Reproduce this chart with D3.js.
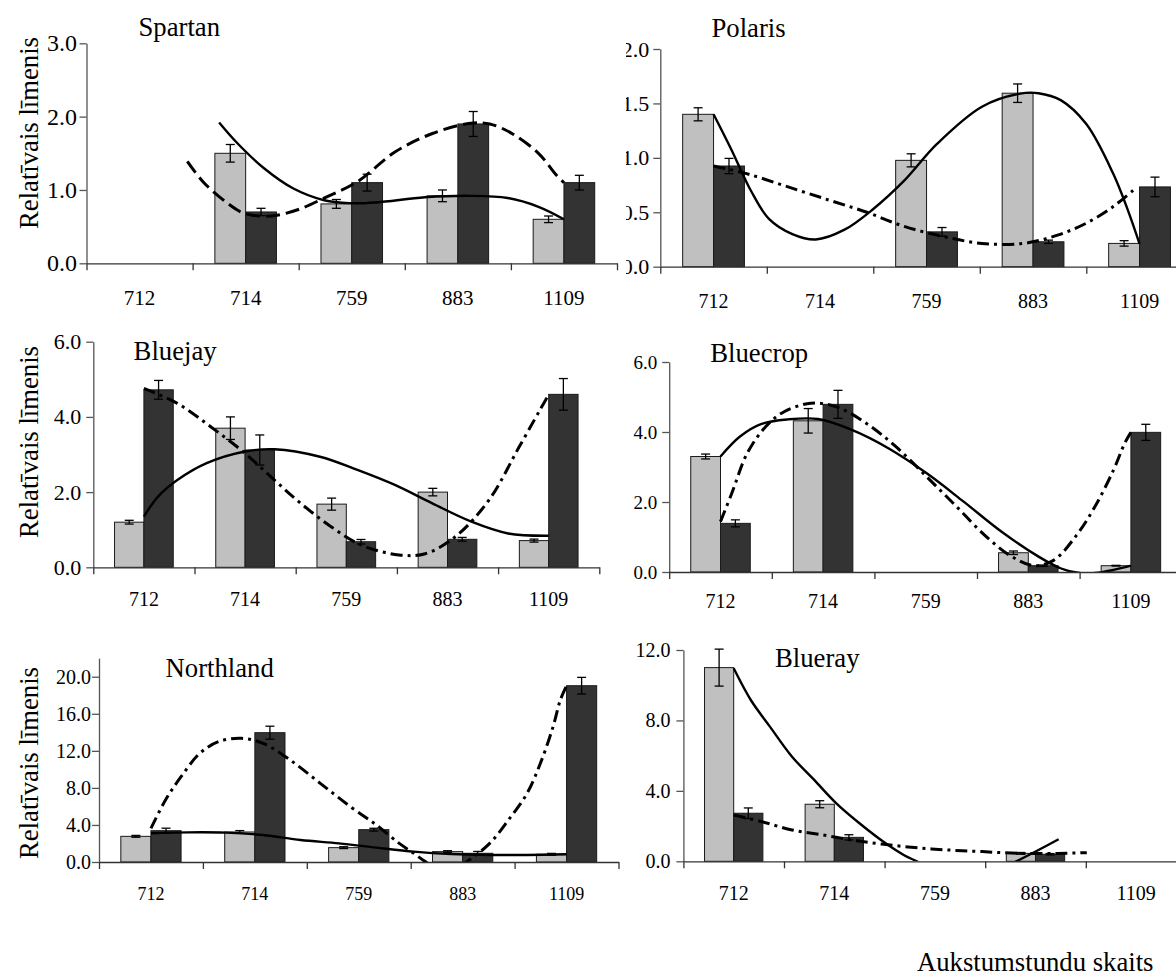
<!DOCTYPE html>
<html lang="lv">
<head>
    <meta charset="UTF-8">
    <title>Relatīvais līmenis</title>
    <style>
        body {
            margin: 0;
            background: #ffffff;
        }
        text {
            font-family: "Liberation Serif", "Times New Roman", serif;
            fill: #000;
        }
    </style>
</head>
<body>
<div id="chart"></div>
<script src="https://d3js.org/d3.v7.min.js"></script>
<script>
    // kategorijas (x ass)
    const categories = ["712", "714", "759", "883", "1109"];

    // Spartan
    const spartanGrey = [null, 1.5, 0.81, 0.92, 0.6];
    const spartanGreyErr = [null, 0.12, 0.06, 0.08, 0.045];
    const spartanDark = [null, 0.7, 1.1, 1.9, 1.1];
    const spartanDarkErr = [null, 0.05, 0.115, 0.17, 0.1];
    // trend lines, [category position, value]
    const spartanSolid = [[1.25, 1.92], [1.42, 1.64], [1.67, 1.30], [1.95, 1.02], [2.24, 0.86], [2.48, 0.82], [2.73, 0.83], [3.19, 0.90], [3.62, 0.92], [3.97, 0.89], [4.26, 0.77], [4.5, 0.6]];
    const spartanDash = [[0.95, 1.39], [1.10, 1.11], [1.31, 0.84], [1.49, 0.68], [1.74, 0.645], [1.99, 0.73], [2.27, 0.91], [2.55, 1.11], [2.91, 1.52], [3.26, 1.77], [3.62, 1.91], [3.80, 1.90], [4.01, 1.77], [4.26, 1.5], [4.43, 1.2], [4.5, 1.1]];

    // Polaris
    const polarisGrey = [1.40, null, 0.977, 1.594, 0.214];
    const polarisGreyErr = [0.06, null, 0.06, 0.085, 0.025];
    const polarisDark = [0.925, null, 0.32, 0.229, 0.733];
    const polarisDarkErr = [0.07, null, 0.04, 0.015, 0.09];
    const polarisSolid = [[0.5, 1.40], [0.67, 1.07], [0.85, 0.70], [1.02, 0.44], [1.24, 0.30], [1.46, 0.25], [1.73, 0.34], [2.0, 0.53], [2.29, 0.79], [2.6, 1.13], [3.02, 1.47], [3.38, 1.59], [3.55, 1.594], [3.76, 1.53], [4.0, 1.31], [4.25, 0.86], [4.39, 0.52], [4.5, 0.21]];
    const polarisDash = [[0.5, 0.925], [0.81, 0.855], [1.2, 0.733], [1.59, 0.61], [1.94, 0.50], [2.29, 0.37], [2.67, 0.275], [3.02, 0.214], [3.41, 0.214], [3.73, 0.29], [4.0, 0.40], [4.25, 0.55], [4.46, 0.72]];

    // Bluejay
    const bluejayGrey = [1.2, 3.7, 1.68, 2.0, 0.71];
    const bluejayGreyErr = [0.05, 0.3, 0.16, 0.1, 0.04];
    const bluejayDark = [4.72, 3.12, 0.68, 0.745, 4.6];
    const bluejayDarkErr = [0.25, 0.4, 0.06, 0.05, 0.42];
    const bluejaySolid = [[0.5, 1.35], [0.64, 1.88], [0.83, 2.32], [1.12, 2.77], [1.5, 3.08], [1.79, 3.14], [2.24, 2.94], [2.61, 2.59], [2.98, 2.19], [3.35, 1.70], [3.73, 1.22], [4.1, 0.90], [4.5, 0.84]];
    const bluejayDash = [[0.5, 4.76], [0.83, 4.36], [1.16, 3.74], [1.5, 3.03], [1.79, 2.32], [2.05, 1.70], [2.35, 1.08], [2.65, 0.59], [3.02, 0.33], [3.28, 0.36], [3.58, 0.82], [3.91, 1.79], [4.21, 3.21], [4.47, 4.45], [4.5, 4.58]];

    // Bluecrop
    const bluecropGrey = [3.3, 4.32, null, 0.55, 0.18];
    const bluecropGreyErr = [0.07, 0.35, null, 0.05, 0.01];
    const bluecropDark = [1.39, 4.79, null, 0.18, 3.99];
    const bluecropDarkErr = [0.1, 0.4, null, 0.02, 0.23];
    const bluecropSolid = [[0.5, 3.3], [0.69, 3.87], [0.9, 4.23], [1.16, 4.36], [1.45, 4.37], [1.78, 4.06], [2.14, 3.53], [2.51, 2.82], [2.87, 2.01], [3.24, 1.15], [3.6, 0.44], [3.82, 0.1], [4.0, -0.03], [4.15, -0.03], [4.33, 0.06], [4.5, 0.18]];
    const bluecropDash = [[0.5, 1.44], [0.61, 2.25], [0.76, 3.39], [0.94, 4.15], [1.12, 4.58], [1.38, 4.82], [1.63, 4.72], [1.92, 4.25], [2.21, 3.58], [2.51, 2.72], [2.8, 1.87], [3.09, 1.01], [3.34, 0.44], [3.56, 0.18], [3.75, 0.34], [3.96, 1.01], [4.15, 1.87], [4.33, 2.91], [4.44, 3.68], [4.5, 3.99]];

    // Northland
    const northlandGrey = [2.77, 3.24, 1.55, 1.12, 0.83];
    const northlandGreyErr = [0.1, 0.15, 0.1, 0.1, 0.1];
    const northlandDark = [3.38, 13.96, 3.49, 0.94, 19.03];
    const northlandDarkErr = [0.27, 0.7, 0.15, 0.2, 0.9];
    const northlandSolid = [[0.5, 3.1], [0.86, 3.2], [1.22, 3.17], [1.58, 2.91], [1.94, 2.37], [2.31, 2.01], [2.67, 1.55], [3.03, 1.12], [3.39, 0.86], [3.76, 0.76], [4.12, 0.76], [4.5, 0.83]];
    const northlandDash = [[0.5, 3.63], [0.64, 6.69], [0.79, 9.21], [0.97, 11.73], [1.15, 12.99], [1.37, 13.35], [1.58, 12.81], [1.84, 11.01], [2.13, 8.49], [2.42, 5.97], [2.67, 3.99], [2.89, 2.01], [3.03, 0.94], [3.14, 0.04], [3.34, -1.2], [3.54, 0.04], [3.76, 2.01], [3.94, 4.53], [4.12, 7.41], [4.26, 11.0], [4.37, 14.6], [4.44, 17.48], [4.5, 19.03]];

    // Blueray
    const bluerayGrey = [11.0, 3.24, null, 0.45, null];
    const bluerayGreyErr = [1.05, 0.2, null, 0.05, null];
    const bluerayDark = [2.73, 1.36, null, 0.40, null];
    const bluerayDarkErr = [0.3, 0.15, null, 0.04, null];
    const blueraySolid = [[0.5, 10.96], [0.67, 9.16], [0.86, 7.65], [1.08, 5.94], [1.3, 4.62], [1.52, 3.29], [1.75, 2.16], [2.01, 1.02], [2.19, 0.36], [2.32, 0], [2.8, -1.3], [3.31, 0], [3.73, 1.25]];
    const bluerayDash = [[0.5, 2.63], [0.78, 2.25], [1.08, 1.78], [1.38, 1.5], [1.67, 1.21], [1.97, 0.98], [2.3, 0.78], [2.64, 0.64], [2.97, 0.55], [3.34, 0.45], [3.72, 0.45], [4.01, 0.49]];

    const serif = "'Liberation Serif', 'Times New Roman', serif";

    // panel layout (pixel placement of each small chart)
    const panels = [
        {name: "Spartan", grey: spartanGrey, greyErr: spartanGreyErr, dark: spartanDark, darkErr: spartanDarkErr,
            solid: spartanSolid, dash: spartanDash, dashArray: "14,6",
            x0: 86.5, x1: 617, y0: 263.3, yTop: 43.3, yMax: 3, yTicks: [0, 1, 2, 3],
            font: 21, yFont: 24, labelY: 305, yPad: 2.5, titleX: 138.5, titleY: 36, yLabelY: 133},
        {name: "Polaris", grey: polarisGrey, greyErr: polarisGreyErr, dark: polarisDark, darkErr: polarisDarkErr,
            solid: polarisSolid, dash: polarisDash, dashArray: "12,5,3,5",
            x0: 660.3, x1: 1192.8, y0: 266.7, yTop: 49, yMax: 2, yTicks: [0, 0.5, 1, 1.5, 2],
            font: 20, yFont: 22, labelY: 308, yPad: 4, titleX: 711.5, titleY: 37, clipLeft: 626},
        {name: "Bluejay", grey: bluejayGrey, greyErr: bluejayGreyErr, dark: bluejayDark, darkErr: bluejayDarkErr,
            solid: bluejaySolid, dash: bluejayDash, dashArray: "12,5,3,5",
            x0: 93.3, x1: 599.3, y0: 567.3, yTop: 341.7, yMax: 6, yTicks: [0, 2, 4, 6],
            font: 20, yFont: 22, labelY: 606, yPad: 5, titleX: 133.6, titleY: 360, yLabelY: 442},
        {name: "Bluecrop", grey: bluecropGrey, greyErr: bluecropGreyErr, dark: bluecropDark, darkErr: bluecropDarkErr,
            solid: bluecropSolid, dash: bluecropDash, dashArray: "12,5,3,5",
            x0: 669.2, x1: 1182.2, y0: 572, yTop: 362, yMax: 6, yTicks: [0, 2, 4, 6],
            font: 20, yFont: 19, labelY: 608, yPad: 5, titleX: 710.3, titleY: 362},
        {name: "Northland", grey: northlandGrey, greyErr: northlandGreyErr, dark: northlandDark, darkErr: northlandDarkErr,
            solid: northlandSolid, dash: northlandDash, dashArray: "12,5,3,5",
            x0: 99, x1: 618.5, y0: 862, yTop: 658.2, yMax: 22, yTicks: [0, 4, 8, 12, 16, 20],
            font: 18, yFont: 20, labelY: 900, yPad: 1, titleX: 165.6, titleY: 677, yLabelY: 763},
        {name: "Blueray", grey: bluerayGrey, greyErr: bluerayGreyErr, dark: bluerayDark, darkErr: bluerayDarkErr,
            solid: blueraySolid, dash: bluerayDash, dashArray: "12,5,3,5",
            x0: 683.4, x1: 1186.4, y0: 861.3, yTop: 650, yMax: 12, yTicks: [0, 4, 8, 12],
            font: 20, yFont: 20, labelY: 900, yPad: 6, titleX: 775, titleY: 667}
    ];

    const svg = d3.select("#chart")
        .append("svg")
        .attr("width", 1176)
        .attr("height", 976);

    const defs = svg.append("defs");

    panels.forEach(function (p, pi) {
        const g = svg.append("g");

        // the right column is cut on its left side in the original
        if (p.clipLeft) {
            defs.append("clipPath").attr("id", "panelclip" + pi)
                .append("rect")
                .attr("x", p.clipLeft).attr("y", 0)
                .attr("width", 1176 - p.clipLeft).attr("height", 976);
            g.attr("clip-path", "url(#panelclip" + pi + ")");
        }

        const x = d3.scaleBand().domain(categories).range([p.x0, p.x1]);
        const xu = d3.scaleLinear().domain([0, categories.length]).range([p.x0, p.x1]);
        const sub = d3.scaleBand().domain(["grey", "dark"]).range([0, x.bandwidth()])
            .paddingInner(0).paddingOuter(0.724);
        const y = d3.scaleLinear().domain([0, p.yMax]).range([p.y0, p.yTop]);

        // bars + error bars
        const series = [
            {key: "grey", vals: p.grey, errs: p.greyErr, fill: "#c0c0c0"},
            {key: "dark", vals: p.dark, errs: p.darkErr, fill: "#333333"}
        ];
        series.forEach(function (s) {
            const rows = categories.map((c, i) => ({cat: c, v: s.vals[i], e: s.errs[i]}))
                .filter(d => d.v != null);

            g.selectAll(null)
                .data(rows)
                .join("rect")
                .attr("x", d => x(d.cat) + sub(s.key))
                .attr("y", d => y(d.v))
                .attr("width", sub.bandwidth())
                .attr("height", d => y(0) - y(d.v))
                .attr("fill", s.fill)
                .attr("stroke", "#1a1a1a")
                .attr("stroke-width", 1);

            const eb = g.selectAll(null)
                .data(rows)
                .join("g")
                .attr("transform", d => `translate(${x(d.cat) + sub(s.key) + sub.bandwidth() / 2},0)`)
                .attr("stroke", "#000")
                .attr("stroke-width", 1.3);
            eb.append("line").attr("x1", 0).attr("x2", 0)
                .attr("y1", d => y(d.v + d.e)).attr("y2", d => y(d.v - d.e));
            eb.append("line").attr("x1", -4.5).attr("x2", 4.5)
                .attr("y1", d => y(d.v + d.e)).attr("y2", d => y(d.v + d.e));
            eb.append("line").attr("x1", -4.5).attr("x2", 4.5)
                .attr("y1", d => y(d.v - d.e)).attr("y2", d => y(d.v - d.e));
        });

        // trend lines, clipped to the plot area
        defs.append("clipPath").attr("id", "plotclip" + pi)
            .append("rect")
            .attr("x", p.x0).attr("y", p.yTop - 40)
            .attr("width", p.x1 - p.x0).attr("height", p.y0 - p.yTop + 40);

        const line = d3.line()
            .curve(d3.curveCatmullRom.alpha(0.5))
            .x(d => xu(d[0]))
            .y(d => y(d[1]));

        const tg = g.append("g").attr("clip-path", "url(#plotclip" + pi + ")");
        tg.append("path")
            .datum(p.solid)
            .attr("d", line)
            .attr("fill", "none")
            .attr("stroke", "#000")
            .attr("stroke-width", 2.4);
        tg.append("path")
            .datum(p.dash)
            .attr("d", line)
            .attr("fill", "none")
            .attr("stroke", "#000")
            .attr("stroke-width", 3)
            .attr("stroke-dasharray", p.dashArray);

        // y axis
        const yAxis = g.append("g")
            .attr("transform", `translate(${p.x0},0)`)
            .call(d3.axisLeft(y).tickValues(p.yTicks).tickSize(7).tickSizeOuter(0)
                .tickPadding(p.yPad).tickFormat(d3.format(".1f")))
            .attr("font-family", serif)
            .attr("font-size", p.yFont);
        yAxis.select(".domain").attr("stroke", "#555").attr("stroke-width", 1.3);
        yAxis.selectAll(".tick line").attr("stroke", "#555").attr("stroke-width", 1.3);
        yAxis.selectAll("text")
            .style("font-family", serif)
            .style("font-size", p.yFont + "px")
            .attr("fill", "#000");

        // x axis: ticks on category borders, labels in the middle
        const xAxis = g.append("g")
            .attr("transform", `translate(0,${y(0)})`)
            .call(d3.axisBottom(xu).tickValues(d3.range(categories.length + 1))
                .tickSize(7).tickSizeOuter(0).tickFormat(""));
        xAxis.select(".domain").attr("stroke", "#333").attr("stroke-width", 1.3);
        xAxis.selectAll(".tick line").attr("stroke", "#333").attr("stroke-width", 1.3);

        g.selectAll(null)
            .data(categories)
            .join("text")
            .attr("x", d => x(d) + x.bandwidth() / 2)
            .attr("y", p.labelY)
            .attr("text-anchor", "middle")
            .style("font-size", p.font + "px")
            .text(d => d);

        // title
        g.append("text")
            .attr("x", p.titleX)
            .attr("y", p.titleY)
            .style("font-size", "26.7px")
            .text(p.name);

        // y label only on the left column
        if (p.yLabelY) {
            svg.append("text")
                .attr("transform", `translate(37.5,${p.yLabelY}) rotate(-90)`)
                .attr("text-anchor", "middle")
                .style("font-size", "26.7px")
                .text("Relatīvais līmenis");
        }
    });

    svg.append("text")
        .attr("x", 917)
        .attr("y", 971)
        .style("font-size", "26.7px")
        .text("Aukstumstundu skaits");
</script>
</body>
</html>
